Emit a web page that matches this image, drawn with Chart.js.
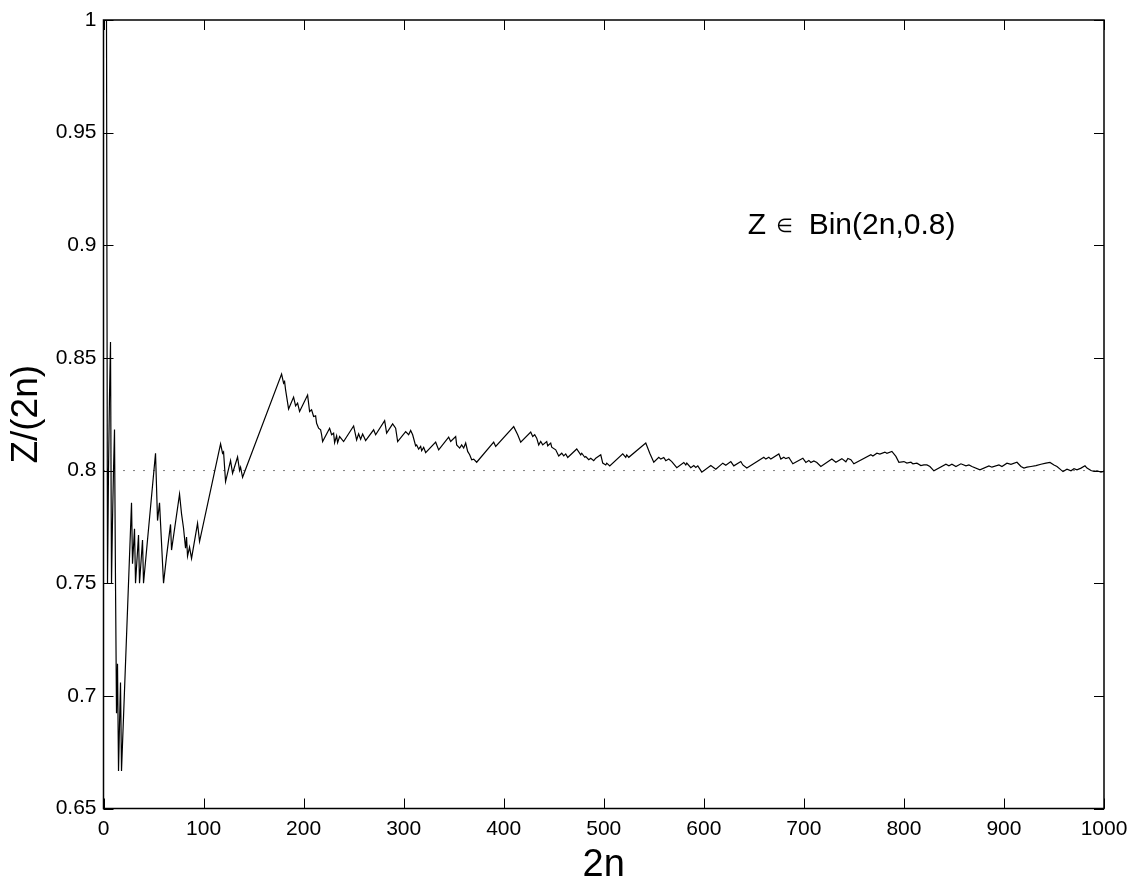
<!DOCTYPE html>
<html>
<head>
<meta charset="utf-8">
<script src="https://cdn.jsdelivr.net/npm/chart.js@4.4.0/dist/chart.umd.min.js"></script>
<style>
  html, body { margin: 0; padding: 0; background: #fff; }
  #wrap { width: 1138px; height: 889px; position: relative; }
</style>
</head>
<body>
<div id="wrap"><canvas id="propChart"></canvas></div>
<script>
// number of trials (2n) where the running proportion changes direction
const trials = [1, 2, 3, 4, 5, 6, 7, 8, 9, 10, 11, 12, 13, 14, 15, 16, 17, 18,
  28, 29, 31, 32, 35, 36, 39, 40,
  52, 54, 56, 60, 63, 67, 68, 76, 78, 80, 82, 83, 84, 86, 88, 94, 96,
  117, 119, 120, 122, 127, 129, 134, 136, 137, 139,
  178, 180, 181, 182, 185, 190, 192, 194, 196, 204, 206, 208, 210, 212, 213, 215, 217, 218, 219,
  226, 228, 230, 231, 233, 234, 236, 240, 250, 253, 255, 257, 259, 262, 270, 272, 281, 283, 289,
  292, 294, 302, 305, 307, 309, 312, 313, 315, 317, 318, 320, 322, 332, 335, 345, 347, 352, 353,
  356, 358, 360, 362, 364, 366, 368, 370, 373, 390, 392, 410, 414, 417, 427, 429, 431, 433, 435,
  437, 439, 443, 444, 447, 448, 452, 455, 458, 460, 462, 464, 473, 477, 478, 481, 482, 485, 487,
  490, 492, 497, 499, 502, 503, 506, 519, 522, 523, 525, 542, 546, 550, 555, 557, 560, 562, 565,
  568, 573, 580, 582, 583, 587, 590, 592, 594, 598, 607, 612, 619, 622, 627, 630, 637, 639, 643,
  660, 662, 665, 667, 675, 677, 680, 682, 685, 689, 699, 702, 705, 707, 710, 713, 717, 728, 732,
  738, 742, 744, 747, 750, 767, 769, 773, 776, 781, 783, 788, 792, 795, 800, 803, 807, 809, 813,
  817, 820, 823, 826, 830, 842, 845, 848, 852, 857, 862, 865, 868, 876, 885, 888, 895, 898, 903,
  907, 913, 917, 920, 923, 927, 932, 937, 942, 946, 950, 953, 957, 959, 963, 967, 970, 973, 977,
  981, 983, 987, 990, 993, 997, 1000];

// Z/(2n) read at those trials
const ratio = [1, 1, 1, 0.75, 0.8, 0.8333, 0.8571, 0.75, 0.7778, 0.8, 0.8182, 0.75, 0.6923, 0.7143, 0.6667, 0.6875, 0.7059, 0.6667,
  0.7857, 0.7586, 0.7742, 0.75, 0.7714, 0.75, 0.7692, 0.75,
  0.8077, 0.7778, 0.7857, 0.75, 0.7619, 0.7761, 0.7647, 0.7895, 0.7808, 0.7744, 0.7655, 0.7705, 0.7620, 0.7660, 0.7610, 0.7766, 0.7685,
  0.8119, 0.8077, 0.8083, 0.7951, 0.8044, 0.7988, 0.8060, 0.8000, 0.8015, 0.7970,
  0.8428, 0.8388, 0.8395, 0.8358, 0.8273, 0.8326, 0.8287, 0.8299, 0.8262, 0.8335, 0.8262, 0.8270, 0.8240, 0.8243, 0.8210, 0.8188, 0.8181, 0.8159, 0.8129,
  0.8188, 0.8159, 0.8166, 0.8124, 0.8154, 0.8124, 0.8151, 0.8129, 0.8198, 0.8136, 0.8163, 0.8139, 0.8162, 0.8133, 0.8181, 0.8159, 0.8222, 0.8166, 0.8207,
  0.8188, 0.8129, 0.8173, 0.8159, 0.8178, 0.8159, 0.8110, 0.8114, 0.8095, 0.8107, 0.8088, 0.8103, 0.8080, 0.8126, 0.8092, 0.8148, 0.8129, 0.8151, 0.8114,
  0.8100, 0.8114, 0.8100, 0.8122, 0.8085, 0.8070, 0.8048, 0.8051, 0.8037, 0.8126, 0.8107, 0.8195, 0.8159, 0.8126, 0.8171, 0.8151, 0.8159, 0.8144, 0.8114,
  0.8129, 0.8114, 0.8129, 0.8110, 0.8122, 0.8104, 0.8092, 0.8065, 0.8077, 0.8065, 0.8074, 0.8058, 0.8096, 0.8070, 0.8077, 0.8059, 0.8062, 0.8048, 0.8055,
  0.8044, 0.8055, 0.8070, 0.8033, 0.8025, 0.8033, 0.8021, 0.8074, 0.8059, 0.8070, 0.8059, 0.8122, 0.8077, 0.8037, 0.8059, 0.8051, 0.8058, 0.8044, 0.8051,
  0.8040, 0.8013, 0.8036, 0.8025, 0.8033, 0.8013, 0.8022, 0.8014, 0.8021, 0.7993, 0.8022, 0.8006, 0.8033, 0.8024, 0.8040, 0.8021, 0.8040, 0.8025, 0.8011,
  0.8059, 0.8051, 0.8059, 0.8051, 0.8074, 0.8051, 0.8059, 0.8053, 0.8058, 0.8030, 0.8055, 0.8036, 0.8045, 0.8036, 0.8043, 0.8036, 0.8018, 0.8051, 0.8037,
  0.8053, 0.8039, 0.8054, 0.8048, 0.8030, 0.8070, 0.8065, 0.8077, 0.8073, 0.8082, 0.8077, 0.8085, 0.8063, 0.8037, 0.8040, 0.8033, 0.8037, 0.8030, 0.8033,
  0.8022, 0.8025, 0.8025, 0.8018, 0.7999, 0.8028, 0.8021, 0.8028, 0.8018, 0.8030, 0.8021, 0.8025, 0.8018, 0.8003, 0.8021, 0.8015, 0.8025, 0.8018, 0.8033,
  0.8028, 0.8037, 0.8018, 0.8011, 0.8015, 0.8018, 0.8022, 0.8028, 0.8033, 0.8036, 0.8025, 0.8018, 0.8003, 0.7996, 0.8006, 0.7999, 0.8008, 0.8003, 0.8011,
  0.8021, 0.8011, 0.8000, 0.7996, 0.7999, 0.7993, 0.7996];

const expected = 0.8;          // p of the binomial
const xRange = [0, 1000];
const yRange = [0.65, 1];
const xStep = 100;
const yStep = 0.05;
const annotationParts = ['Z', '\u2208', 'Bin(2n,0.8)'];

const FONT = '"Liberation Sans", Arial, Helvetica, sans-serif';

// box with inward ticks on all four sides, plus the text label
const matlabFrame = {
    id: 'matlabFrame',
    afterDraw(chart) {
        const { ctx, chartArea: a, scales: { x, y } } = chart;
        const tick = 10;
        ctx.save();
        ctx.strokeStyle = '#000';
        ctx.lineWidth = 1;
        ctx.beginPath();
        x.ticks.forEach(t => {
            const px = Math.round(x.getPixelForValue(t.value)) + 0.5;
            ctx.moveTo(px, a.bottom); ctx.lineTo(px, a.bottom - tick);
            ctx.moveTo(px, a.top); ctx.lineTo(px, a.top + tick);
        });
        y.ticks.forEach(t => {
            const py = Math.round(y.getPixelForValue(t.value)) + 0.5;
            ctx.moveTo(a.left, py); ctx.lineTo(a.left + tick, py);
            ctx.moveTo(a.right, py); ctx.lineTo(a.right - tick, py);
        });
        ctx.stroke();
        ctx.lineWidth = 1.5;
        ctx.strokeRect(a.left, a.top, a.right - a.left, a.bottom - a.top);

        // "Z ∈ Bin(2n,0.8)" with a smaller symbol, as in the TeX-rendered label
        ctx.fillStyle = '#000';
        ctx.textBaseline = 'middle';
        ctx.textAlign = 'left';
        let tx = x.getPixelForValue(644);
        const ty = y.getPixelForValue(0.9089);
        ctx.font = '30px ' + FONT;
        ctx.fillText(annotationParts[0], tx, ty);
        tx += ctx.measureText(annotationParts[0]).width + 10;
        ctx.font = '19px "DejaVu Sans", sans-serif';
        ctx.fillText(annotationParts[1], tx, ty + 2);
        tx += ctx.measureText(annotationParts[1]).width + 16;
        ctx.font = '30px ' + FONT;
        ctx.fillText(annotationParts[2], tx, ty);
        ctx.restore();
    }
};

document.addEventListener('DOMContentLoaded', function() {
    const ctx = document.getElementById('propChart');
    Chart.defaults.color = '#000';
    Chart.defaults.font.family = FONT;

    const points = trials.map((t, i) => ({ x: t, y: ratio[i] }));

    new Chart(ctx, {
        type: 'line',
        data: {
            datasets: [{
                data: points,
                borderColor: '#000',
                borderWidth: 1.2,
                pointRadius: 0,
                tension: 0
            }, {
                data: [{ x: xRange[0], y: expected }, { x: xRange[1], y: expected }],
                borderColor: '#000',
                borderWidth: 1,
                borderDash: [1, 9],
                pointRadius: 0
            }]
        },
        options: {
            responsive: true,
            maintainAspectRatio: false,
            animation: false,
            events: [],
            layout: { padding: { left: 0, top: 20, right: 34, bottom: 0 } },
            plugins: {
                legend: { display: false },
                tooltip: { enabled: false }
            },
            scales: {
                x: {
                    type: 'linear',
                    min: xRange[0],
                    max: xRange[1],
                    grid: { display: false, drawTicks: false },
                    border: { display: false },
                    ticks: {
                        stepSize: xStep,
                        font: { size: 21 },
                        padding: 8,
                        maxRotation: 0,
                        callback: v => String(v)
                    },
                    title: { display: true, text: '2n', font: { size: 38, lineHeight: 1 }, padding: { top: 0, bottom: 4 } },
                    afterFit: s => { s.height = 80.5; }
                },
                y: {
                    min: yRange[0],
                    max: yRange[1],
                    grid: { display: false, drawTicks: false },
                    border: { display: false },
                    ticks: {
                        stepSize: yStep,
                        font: { size: 21 },
                        padding: 7,
                        callback: v => String(+v.toFixed(2))
                    },
                    title: { display: true, text: 'Z/(2n)', font: { size: 37, lineHeight: 1 }, padding: { top: 8, bottom: 0 } },
                    afterFit: s => { s.width = 103.5; }
                }
            }
        },
        plugins: [matlabFrame]
    });
});
</script>
</body>
</html>
